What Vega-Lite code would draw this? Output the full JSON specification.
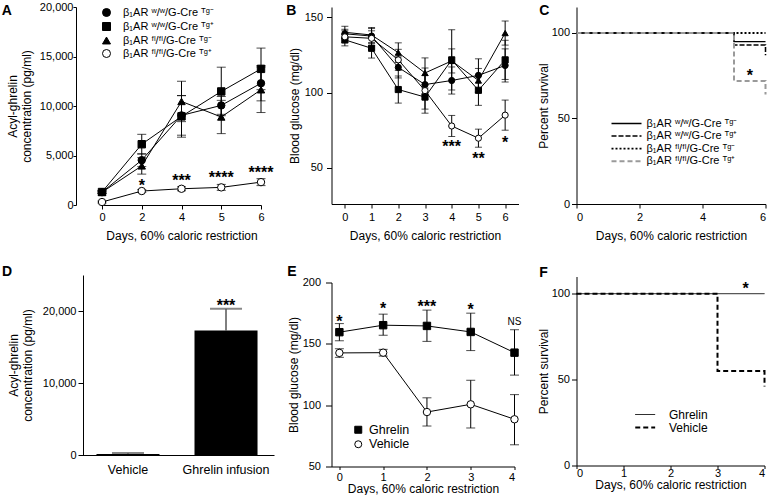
{
  "$schema": "https://vega.github.io/schema/vega-lite/v6.json",
  "padding": {"left": 1, "top": 1, "right": 0, "bottom": 0},
  "background": "white",
  "datasets": {
    "a": [
      {"g": "β₁AR ʷ/ʷ/G-Cre ᵀᵍ⁻", "day": "0", "v": 1300, "lo": 1200, "hi": 1400},
      {"g": "β₁AR ʷ/ʷ/G-Cre ᵀᵍ⁻", "day": "2", "v": 4530, "lo": 3880, "hi": 5180},
      {"g": "β₁AR ʷ/ʷ/G-Cre ᵀᵍ⁻", "day": "4", "v": 9050, "lo": 7050, "hi": 11050},
      {"g": "β₁AR ʷ/ʷ/G-Cre ᵀᵍ⁻", "day": "5", "v": 10060, "lo": 9160, "hi": 10960},
      {"g": "β₁AR ʷ/ʷ/G-Cre ᵀᵍ⁻", "day": "6", "v": 12300, "lo": 10520, "hi": 14080},
      {"g": "β₁AR ʷ/ʷ/G-Cre ᵀᵍ⁺", "day": "0", "v": 1310, "lo": 1160, "hi": 1460},
      {"g": "β₁AR ʷ/ʷ/G-Cre ᵀᵍ⁺", "day": "2", "v": 6140, "lo": 5140, "hi": 7140},
      {"g": "β₁AR ʷ/ʷ/G-Cre ᵀᵍ⁺", "day": "4", "v": 8950, "lo": 6850, "hi": 11050},
      {"g": "β₁AR ʷ/ʷ/G-Cre ᵀᵍ⁺", "day": "5", "v": 11470, "lo": 9020, "hi": 13920},
      {"g": "β₁AR ʷ/ʷ/G-Cre ᵀᵍ⁺", "day": "6", "v": 13750, "lo": 11650, "hi": 15850},
      {"g": "β₁AR ᶠˡ/ᶠˡ/G-Cre ᵀᵍ⁻", "day": "0", "v": 1290, "lo": 1190, "hi": 1390},
      {"g": "β₁AR ᶠˡ/ᶠˡ/G-Cre ᵀᵍ⁻", "day": "2", "v": 3950, "lo": 3120, "hi": 4780},
      {"g": "β₁AR ᶠˡ/ᶠˡ/G-Cre ᵀᵍ⁻", "day": "4", "v": 10460, "lo": 8420, "hi": 12500},
      {"g": "β₁AR ᶠˡ/ᶠˡ/G-Cre ᵀᵍ⁻", "day": "5", "v": 8890, "lo": 7210, "hi": 10570},
      {"g": "β₁AR ᶠˡ/ᶠˡ/G-Cre ᵀᵍ⁻", "day": "6", "v": 11640, "lo": 9340, "hi": 13940},
      {"g": "β₁AR ᶠˡ/ᶠˡ/G-Cre ᵀᵍ⁺", "day": "0", "v": 300, "lo": 200, "hi": 400},
      {"g": "β₁AR ᶠˡ/ᶠˡ/G-Cre ᵀᵍ⁺", "day": "2", "v": 1410, "lo": 1260, "hi": 1560},
      {"g": "β₁AR ᶠˡ/ᶠˡ/G-Cre ᵀᵍ⁺", "day": "4", "v": 1640, "lo": 1440, "hi": 1840},
      {"g": "β₁AR ᶠˡ/ᶠˡ/G-Cre ᵀᵍ⁺", "day": "5", "v": 1780, "lo": 1480, "hi": 2080},
      {"g": "β₁AR ᶠˡ/ᶠˡ/G-Cre ᵀᵍ⁺", "day": "6", "v": 2310, "lo": 1960, "hi": 2660}
    ],
    "a_sig": [
      {"day": "2", "y": 2350, "t": "*"},
      {"day": "4", "y": 2850, "t": "***"},
      {"day": "5", "y": 3120, "t": "****"},
      {"day": "6", "y": 3590, "t": "****"}
    ],
    "b": [
      {"g": "β₁AR ʷ/ʷ/G-Cre ᵀᵍ⁻", "day": 0, "v": 139, "lo": 136, "hi": 142},
      {"g": "β₁AR ʷ/ʷ/G-Cre ᵀᵍ⁻", "day": 1, "v": 137.5, "lo": 132.5, "hi": 142.5},
      {"g": "β₁AR ʷ/ʷ/G-Cre ᵀᵍ⁻", "day": 2, "v": 116.7, "lo": 109.7, "hi": 123.7},
      {"g": "β₁AR ʷ/ʷ/G-Cre ᵀᵍ⁻", "day": 3, "v": 105.3, "lo": 99.3, "hi": 111.3},
      {"g": "β₁AR ʷ/ʷ/G-Cre ᵀᵍ⁻", "day": 4, "v": 108, "lo": 99, "hi": 117},
      {"g": "β₁AR ʷ/ʷ/G-Cre ᵀᵍ⁻", "day": 5, "v": 111.4, "lo": 100.4, "hi": 122.4},
      {"g": "β₁AR ʷ/ʷ/G-Cre ᵀᵍ⁻", "day": 6, "v": 118, "lo": 107, "hi": 129},
      {"g": "β₁AR ʷ/ʷ/G-Cre ᵀᵍ⁺", "day": 0, "v": 135, "lo": 131, "hi": 139},
      {"g": "β₁AR ʷ/ʷ/G-Cre ᵀᵍ⁺", "day": 1, "v": 129.4, "lo": 122.9, "hi": 135.9},
      {"g": "β₁AR ʷ/ʷ/G-Cre ᵀᵍ⁺", "day": 2, "v": 102, "lo": 93, "hi": 111},
      {"g": "β₁AR ʷ/ʷ/G-Cre ᵀᵍ⁺", "day": 3, "v": 97, "lo": 89, "hi": 105},
      {"g": "β₁AR ʷ/ʷ/G-Cre ᵀᵍ⁺", "day": 4, "v": 121.7, "lo": 101.7, "hi": 141.7},
      {"g": "β₁AR ʷ/ʷ/G-Cre ᵀᵍ⁺", "day": 5, "v": 101.5, "lo": 91.5, "hi": 111.5},
      {"g": "β₁AR ʷ/ʷ/G-Cre ᵀᵍ⁺", "day": 6, "v": 121.7, "lo": 108.7, "hi": 134.7},
      {"g": "β₁AR ᶠˡ/ᶠˡ/G-Cre ᵀᵍ⁻", "day": 0, "v": 140, "lo": 136, "hi": 144},
      {"g": "β₁AR ᶠˡ/ᶠˡ/G-Cre ᵀᵍ⁻", "day": 1, "v": 138.2, "lo": 133.2, "hi": 143.2},
      {"g": "β₁AR ᶠˡ/ᶠˡ/G-Cre ᵀᵍ⁻", "day": 2, "v": 126.5, "lo": 120, "hi": 133},
      {"g": "β₁AR ᶠˡ/ᶠˡ/G-Cre ᵀᵍ⁻", "day": 3, "v": 113, "lo": 103, "hi": 123},
      {"g": "β₁AR ᶠˡ/ᶠˡ/G-Cre ᵀᵍ⁻", "day": 4, "v": 121, "lo": 113, "hi": 129},
      {"g": "β₁AR ᶠˡ/ᶠˡ/G-Cre ᵀᵍ⁻", "day": 5, "v": 108, "lo": 100, "hi": 116},
      {"g": "β₁AR ᶠˡ/ᶠˡ/G-Cre ᵀᵍ⁻", "day": 6, "v": 139.5, "lo": 131.5, "hi": 147.5},
      {"g": "β₁AR ᶠˡ/ᶠˡ/G-Cre ᵀᵍ⁺", "day": 0, "v": 137, "lo": 133, "hi": 141},
      {"g": "β₁AR ᶠˡ/ᶠˡ/G-Cre ᵀᵍ⁺", "day": 1, "v": 136, "lo": 131, "hi": 141},
      {"g": "β₁AR ᶠˡ/ᶠˡ/G-Cre ᵀᵍ⁺", "day": 2, "v": 121.7, "lo": 114.7, "hi": 128.7},
      {"g": "β₁AR ᶠˡ/ᶠˡ/G-Cre ᵀᵍ⁺", "day": 3, "v": 101.3, "lo": 86.3, "hi": 116.3},
      {"g": "β₁AR ᶠˡ/ᶠˡ/G-Cre ᵀᵍ⁺", "day": 4, "v": 77.8, "lo": 70.8, "hi": 84.8},
      {"g": "β₁AR ᶠˡ/ᶠˡ/G-Cre ᵀᵍ⁺", "day": 5, "v": 69.7, "lo": 63.7, "hi": 75.7},
      {"g": "β₁AR ᶠˡ/ᶠˡ/G-Cre ᵀᵍ⁺", "day": 6, "v": 85, "lo": 75, "hi": 95}
    ],
    "b_sig": [
      {"day": 4, "y": 66.4, "t": "***"},
      {"day": 5, "y": 58.6, "t": "**"},
      {"day": 6, "y": 69, "t": "*"}
    ],
    "c": [
      {"g": "β₁AR ʷ/ʷ/G-Cre ᵀᵍ⁻", "day": 0, "s": 100},
      {"g": "β₁AR ʷ/ʷ/G-Cre ᵀᵍ⁻", "day": 5, "s": 95},
      {"g": "β₁AR ʷ/ʷ/G-Cre ᵀᵍ⁻", "day": 6, "s": 95},
      {"g": "β₁AR ʷ/ʷ/G-Cre ᵀᵍ⁺", "day": 0, "s": 100},
      {"g": "β₁AR ʷ/ʷ/G-Cre ᵀᵍ⁺", "day": 5, "s": 93},
      {"g": "β₁AR ʷ/ʷ/G-Cre ᵀᵍ⁺", "day": 6, "s": 87},
      {"g": "β₁AR ᶠˡ/ᶠˡ/G-Cre ᵀᵍ⁻", "day": 0, "s": 100},
      {"g": "β₁AR ᶠˡ/ᶠˡ/G-Cre ᵀᵍ⁻", "day": 6, "s": 100},
      {"g": "β₁AR ᶠˡ/ᶠˡ/G-Cre ᵀᵍ⁺", "day": 0, "s": 100},
      {"g": "β₁AR ᶠˡ/ᶠˡ/G-Cre ᵀᵍ⁺", "day": 5, "s": 72},
      {"g": "β₁AR ᶠˡ/ᶠˡ/G-Cre ᵀᵍ⁺", "day": 6, "s": 64}
    ],
    "c_sig": [{"day": 5.5, "y": 77, "t": "*"}],
    "d": [
      {"cond": "Vehicle", "v": 150, "hi": 280},
      {"cond": "Ghrelin infusion", "v": 17300, "hi": 20300}
    ],
    "d_sig": [{"cond": "Ghrelin infusion", "y": 21300, "t": "***"}],
    "e": [
      {"g": "Ghrelin", "day": 0, "v": 159.5, "lo": 152.5, "hi": 166.5},
      {"g": "Ghrelin", "day": 1, "v": 165.2, "lo": 157, "hi": 174.2},
      {"g": "Ghrelin", "day": 2, "v": 164.6, "lo": 152, "hi": 177.5},
      {"g": "Ghrelin", "day": 3, "v": 159.7, "lo": 144.5, "hi": 175},
      {"g": "Ghrelin", "day": 4, "v": 142.8, "lo": 124.5, "hi": 161.5},
      {"g": "Vehicle", "day": 0, "v": 142.6, "lo": 139, "hi": 146},
      {"g": "Vehicle", "day": 1, "v": 142.8, "lo": 140, "hi": 145.5},
      {"g": "Vehicle", "day": 2, "v": 94.4, "lo": 83, "hi": 106},
      {"g": "Vehicle", "day": 3, "v": 100.7, "lo": 81.4, "hi": 120.3},
      {"g": "Vehicle", "day": 4, "v": 88.5, "lo": 67.7, "hi": 108.6}
    ],
    "e_sig": [
      {"day": 0, "y": 171.2, "t": "*"},
      {"day": 1, "y": 181.5, "t": "*"},
      {"day": 2, "y": 182.9, "t": "***"},
      {"day": 3, "y": 180.7, "t": "*"}
    ],
    "e_ns": [{"day": 4, "y": 168, "t": "NS"}],
    "f": [
      {"g": "Ghrelin", "day": 0, "s": 100},
      {"g": "Ghrelin", "day": 4, "s": 100},
      {"g": "Vehicle", "day": 0, "s": 100},
      {"g": "Vehicle", "day": 3, "s": 55},
      {"g": "Vehicle", "day": 4, "s": 46}
    ],
    "f_sig": [{"day": 3.6, "y": 105, "t": "*"}]
  },
  "spacing": 14.5,
  "resolve": {"scale": {"shape": "independent", "fill": "independent", "stroke": "independent", "color": "independent", "strokeDash": "independent", "strokeWidth": "independent"}, "legend": {"shape": "independent", "fill": "independent", "stroke": "independent", "color": "independent", "strokeDash": "independent", "strokeWidth": "independent"}},
  "hconcat": [
    {
      "spacing": 10.5,
      "resolve": {"scale": {"shape": "independent", "fill": "independent", "stroke": "independent", "color": "independent", "strokeDash": "independent", "strokeWidth": "independent"}, "legend": {"shape": "independent", "fill": "independent", "stroke": "independent", "color": "independent", "strokeDash": "independent", "strokeWidth": "independent"}},
      "hconcat": [
        {
          "spacing": 23,
          "resolve": {"scale": {"shape": "independent", "fill": "independent", "stroke": "independent", "color": "independent", "strokeDash": "independent", "strokeWidth": "independent"}, "legend": {"shape": "independent", "fill": "independent", "stroke": "independent", "color": "independent", "strokeDash": "independent", "strokeWidth": "independent"}},
          "vconcat": [
            {
              "width": 195, "height": 198,
              "title": {"text": "A", "offset": -16.5, "dx": -5},
              "encoding": {"x": {"field": "day", "type": "ordinal", "scale": {"type": "point", "range": [22, 181], "padding": 0}, "axis": {"labelAngle": 0, "title": "Days, 60% caloric restriction", "tickSize": 4, "labelPadding": 2, "titlePadding": 8}}},
              "layer": [
                {"data": {"name": "a"}, "mark": {"type": "rule", "color": "black", "strokeWidth": 1},
                 "encoding": {"y": {"field": "lo", "type": "quantitative", "title": ["Acyl-ghrelin", "concentration (pg/ml)"], "scale": {"domain": [0, 20000], "nice": false}, "axis": {"values": [0, 5000, 10000, 15000, 20000], "format": ",d", "offset": 4, "tickSize": 3, "labelPadding": 0, "titlePadding": 5.5}}, "y2": {"field": "hi"}}},
                {"data": {"name": "a"}, "mark": {"type": "tick", "orient": "horizontal", "size": 9, "thickness": 1, "color": "black"},
                 "encoding": {"y": {"field": "lo", "type": "quantitative", "title": ["Acyl-ghrelin", "concentration (pg/ml)"]}}},
                {"data": {"name": "a"}, "mark": {"type": "tick", "orient": "horizontal", "size": 9, "thickness": 1, "color": "black"},
                 "encoding": {"y": {"field": "hi", "type": "quantitative", "title": ["Acyl-ghrelin", "concentration (pg/ml)"]}}},
                {"data": {"name": "a"}, "mark": {"type": "line", "color": "black", "strokeWidth": 1},
                 "encoding": {"y": {"field": "v", "type": "quantitative", "title": ["Acyl-ghrelin", "concentration (pg/ml)"]}, "detail": {"field": "g"}}},
                {"data": {"name": "a"}, "mark": {"type": "point", "strokeWidth": 1, "opacity": 1, "size": 55},
                 "encoding": {
                   "y": {"field": "v", "type": "quantitative", "title": ["Acyl-ghrelin", "concentration (pg/ml)"]},
                   "shape": {"field": "g", "type": "nominal", "scale": {"domain": ["β₁AR ʷ/ʷ/G-Cre ᵀᵍ⁻", "β₁AR ʷ/ʷ/G-Cre ᵀᵍ⁺", "β₁AR ᶠˡ/ᶠˡ/G-Cre ᵀᵍ⁻", "β₁AR ᶠˡ/ᶠˡ/G-Cre ᵀᵍ⁺"], "range": ["circle", "square", "triangle-up", "circle"]}, "legend": {"title": null, "orient": "none", "legendX": 21, "legendY": 0, "padding": 0, "symbolSize": 64, "rowPadding": 1, "labelFontSize": 11, "labelOffset": 11, "symbolStrokeWidth": 1}},
                   "fill": {"field": "g", "type": "nominal", "scale": {"domain": ["β₁AR ʷ/ʷ/G-Cre ᵀᵍ⁻", "β₁AR ʷ/ʷ/G-Cre ᵀᵍ⁺", "β₁AR ᶠˡ/ᶠˡ/G-Cre ᵀᵍ⁻", "β₁AR ᶠˡ/ᶠˡ/G-Cre ᵀᵍ⁺"], "range": ["black", "black", "black", "white"]}, "legend": {"title": null, "orient": "none", "legendX": 21, "legendY": 0, "padding": 0, "symbolSize": 64, "rowPadding": 1, "labelFontSize": 11, "labelOffset": 11, "symbolStrokeWidth": 1}},
                   "stroke": {"field": "g", "type": "nominal", "scale": {"domain": ["β₁AR ʷ/ʷ/G-Cre ᵀᵍ⁻", "β₁AR ʷ/ʷ/G-Cre ᵀᵍ⁺", "β₁AR ᶠˡ/ᶠˡ/G-Cre ᵀᵍ⁻", "β₁AR ᶠˡ/ᶠˡ/G-Cre ᵀᵍ⁺"], "range": ["black", "black", "black", "black"]}, "legend": {"title": null, "orient": "none", "legendX": 21, "legendY": 0, "padding": 0, "symbolSize": 64, "rowPadding": 1, "labelFontSize": 11, "labelOffset": 11, "symbolStrokeWidth": 1}}
                 }},
                {"data": {"name": "a_sig"}, "mark": {"type": "text", "fontSize": 16, "fontWeight": "bold", "baseline": "alphabetic", "dy": 9, "color": "black"},
                 "encoding": {"y": {"field": "y", "type": "quantitative", "title": ["Acyl-ghrelin", "concentration (pg/ml)"]}, "text": {"field": "t"}}}
              ]
            },
            {
              "width": 194, "height": 180,
              "title": {"text": "D", "offset": -3.8, "dx": -5},
              "encoding": {"x": {"field": "cond", "type": "nominal", "sort": ["Vehicle", "Ghrelin infusion"], "scale": {"paddingInner": 0.357, "paddingOuter": 0.168}, "axis": {"title": null, "labelAngle": 0, "ticks": false, "tickSize": 0, "labelFontSize": 12.5, "labelPadding": 8}}},
              "layer": [
                {"data": {"name": "d"}, "mark": {"type": "rule", "color": "black", "strokeWidth": 1},
                 "encoding": {"y": {"field": "v", "type": "quantitative", "title": ["Acyl-ghrelin", "concentration (pg/ml)"], "scale": {"domain": [0, 25000], "nice": false}, "axis": {"values": [0, 5000, 10000, 15000, 20000, 25000], "format": ",d", "offset": -3, "tickSize": 5, "labelPadding": 2, "titlePadding": 8.3}}, "y2": {"field": "hi"}}},
                {"data": {"name": "d"}, "mark": {"type": "tick", "orient": "horizontal", "size": 32, "thickness": 2, "color": "#555555"},
                 "encoding": {"y": {"field": "hi", "type": "quantitative", "title": ["Acyl-ghrelin", "concentration (pg/ml)"]}}},
                {"data": {"name": "d"}, "mark": {"type": "bar", "color": "black"},
                 "encoding": {"y": {"field": "v", "type": "quantitative", "title": ["Acyl-ghrelin", "concentration (pg/ml)"]}}},
                {"data": {"name": "d_sig"}, "mark": {"type": "text", "fontSize": 16, "fontWeight": "bold", "baseline": "alphabetic", "dy": 9, "color": "black"},
                 "encoding": {"y": {"field": "y", "type": "quantitative", "title": ["Acyl-ghrelin", "concentration (pg/ml)"]}, "text": {"field": "t"}}}
              ]
            }
          ]
        },
        {
          "spacing": 23.5,
          "resolve": {"scale": {"shape": "independent", "fill": "independent", "stroke": "independent", "color": "independent", "strokeDash": "independent", "strokeWidth": "independent"}, "legend": {"shape": "independent", "fill": "independent", "stroke": "independent", "color": "independent", "strokeDash": "independent", "strokeWidth": "independent"}},
          "vconcat": [
            {
              "width": 187, "height": 197,
              "title": {"text": "B", "offset": -11, "dx": -2},
              "encoding": {"x": {"field": "day", "type": "quantitative", "scale": {"domain": [-0.5, 6.5], "nice": false}, "axis": {"values": [0, 1, 2, 3, 4, 5, 6], "title": "Days, 60% caloric restriction", "tickSize": 4, "labelPadding": 3, "titlePadding": 8}}},
              "layer": [
                {"data": {"name": "b"}, "mark": {"type": "rule", "color": "black", "strokeWidth": 1},
                 "encoding": {"y": {"field": "lo", "type": "quantitative", "title": "Blood glucose (mg/dl)", "scale": {"domain": [26, 156.8], "nice": false}, "axis": {"values": [50, 100, 150], "tickSize": 5, "labelPadding": 4, "titlePadding": 3}}, "y2": {"field": "hi"}}},
                {"data": {"name": "b"}, "mark": {"type": "tick", "orient": "horizontal", "size": 7, "thickness": 1, "color": "black"},
                 "encoding": {"y": {"field": "lo", "type": "quantitative", "title": "Blood glucose (mg/dl)"}}},
                {"data": {"name": "b"}, "mark": {"type": "tick", "orient": "horizontal", "size": 7, "thickness": 1, "color": "black"},
                 "encoding": {"y": {"field": "hi", "type": "quantitative", "title": "Blood glucose (mg/dl)"}}},
                {"data": {"name": "b"}, "mark": {"type": "line", "color": "black", "strokeWidth": 1},
                 "encoding": {"y": {"field": "v", "type": "quantitative", "title": "Blood glucose (mg/dl)"}, "detail": {"field": "g"}}},
                {"data": {"name": "b"}, "mark": {"type": "point", "stroke": "black", "strokeWidth": 1, "opacity": 1, "size": 38},
                 "encoding": {
                   "y": {"field": "v", "type": "quantitative", "title": "Blood glucose (mg/dl)"},
                   "shape": {"field": "g", "type": "nominal", "scale": {"domain": ["β₁AR ʷ/ʷ/G-Cre ᵀᵍ⁻", "β₁AR ʷ/ʷ/G-Cre ᵀᵍ⁺", "β₁AR ᶠˡ/ᶠˡ/G-Cre ᵀᵍ⁻", "β₁AR ᶠˡ/ᶠˡ/G-Cre ᵀᵍ⁺"], "range": ["circle", "square", "triangle-up", "circle"]}, "legend": null},
                   "fill": {"field": "g", "type": "nominal", "scale": {"domain": ["β₁AR ʷ/ʷ/G-Cre ᵀᵍ⁻", "β₁AR ʷ/ʷ/G-Cre ᵀᵍ⁺", "β₁AR ᶠˡ/ᶠˡ/G-Cre ᵀᵍ⁻", "β₁AR ᶠˡ/ᶠˡ/G-Cre ᵀᵍ⁺"], "range": ["black", "black", "black", "white"]}, "legend": null}
                 }},
                {"data": {"name": "b_sig"}, "mark": {"type": "text", "fontSize": 16, "fontWeight": "bold", "baseline": "alphabetic", "dy": 9, "color": "black"},
                 "encoding": {"y": {"field": "y", "type": "quantitative", "title": "Blood glucose (mg/dl)"}, "text": {"field": "t"}}}
              ]
            },
            {
              "width": 183, "height": 184,
              "title": {"text": "E", "offset": -2.8, "dx": 0},
              "encoding": {"x": {"field": "day", "type": "quantitative", "scale": {"domain": [-0.18, 4], "nice": false}, "axis": {"values": [0, 1, 2, 3, 4], "title": "Days, 60% caloric restriction", "tickSize": 3, "labelPadding": 2, "titlePadding": 1}}},
              "layer": [
                {"data": {"name": "e"}, "mark": {"type": "rule", "color": "black", "strokeWidth": 1},
                 "encoding": {"y": {"field": "lo", "type": "quantitative", "title": "Blood glucose (mg/dl)", "scale": {"domain": [50, 200], "nice": false}, "axis": {"values": [50, 100, 150, 200], "tickSize": 6, "labelPadding": 5, "titlePadding": 2}}, "y2": {"field": "hi"}}},
                {"data": {"name": "e"}, "mark": {"type": "tick", "orient": "horizontal", "size": 9, "thickness": 1, "color": "black"},
                 "encoding": {"y": {"field": "lo", "type": "quantitative", "title": "Blood glucose (mg/dl)"}}},
                {"data": {"name": "e"}, "mark": {"type": "tick", "orient": "horizontal", "size": 9, "thickness": 1, "color": "black"},
                 "encoding": {"y": {"field": "hi", "type": "quantitative", "title": "Blood glucose (mg/dl)"}}},
                {"data": {"name": "e"}, "mark": {"type": "line", "color": "black", "strokeWidth": 1},
                 "encoding": {"y": {"field": "v", "type": "quantitative", "title": "Blood glucose (mg/dl)"}, "detail": {"field": "g"}}},
                {"data": {"name": "e"}, "mark": {"type": "point", "strokeWidth": 1, "opacity": 1, "size": 55},
                 "encoding": {
                   "y": {"field": "v", "type": "quantitative", "title": "Blood glucose (mg/dl)"},
                   "shape": {"field": "g", "type": "nominal", "scale": {"domain": ["Ghrelin", "Vehicle"], "range": ["square", "circle"]}, "legend": {"title": null, "orient": "none", "legendX": 20.5, "legendY": 141, "padding": 0, "symbolSize": 49, "rowPadding": 1.5, "labelFontSize": 12.5, "labelOffset": 4.5, "symbolStrokeWidth": 1}},
                   "fill": {"field": "g", "type": "nominal", "scale": {"domain": ["Ghrelin", "Vehicle"], "range": ["black", "white"]}, "legend": {"title": null, "orient": "none", "legendX": 20.5, "legendY": 141, "padding": 0, "symbolSize": 49, "rowPadding": 1.5, "labelFontSize": 12.5, "labelOffset": 4.5, "symbolStrokeWidth": 1}},
                   "stroke": {"field": "g", "type": "nominal", "scale": {"domain": ["Ghrelin", "Vehicle"], "range": ["black", "black"]}, "legend": {"title": null, "orient": "none", "legendX": 20.5, "legendY": 141, "padding": 0, "symbolSize": 49, "rowPadding": 1.5, "labelFontSize": 12.5, "labelOffset": 4.5, "symbolStrokeWidth": 1}}
                 }},
                {"data": {"name": "e_sig"}, "mark": {"type": "text", "fontSize": 16, "fontWeight": "bold", "baseline": "alphabetic", "dy": 9, "color": "black"},
                 "encoding": {"y": {"field": "y", "type": "quantitative", "title": "Blood glucose (mg/dl)"}, "text": {"field": "t"}}},
                {"data": {"name": "e_ns"}, "mark": {"type": "text", "fontSize": 10, "baseline": "middle", "color": "black"},
                 "encoding": {"y": {"field": "y", "type": "quantitative", "title": "Blood glucose (mg/dl)"}, "text": {"field": "t"}}}
              ]
            }
          ]
        }
      ]
    },
    {
      "spacing": 24.5,
      "resolve": {"scale": {"shape": "independent", "fill": "independent", "stroke": "independent", "color": "independent", "strokeDash": "independent", "strokeWidth": "independent"}, "legend": {"shape": "independent", "fill": "independent", "stroke": "independent", "color": "independent", "strokeDash": "independent", "strokeWidth": "independent"}},
      "vconcat": [
        {
          "width": 189, "height": 197,
          "title": {"text": "C", "offset": -11, "dx": 2},
          "encoding": {"x": {"field": "day", "type": "quantitative", "scale": {"domain": [0, 6], "nice": false}, "axis": {"values": [0, 2, 4, 6], "title": "Days, 60% caloric restriction", "tickSize": 4, "labelPadding": 3, "titlePadding": 8}}},
          "layer": [
            {"data": {"name": "c"}, "mark": {"type": "line", "interpolate": "step-after"},
             "encoding": {
               "y": {"field": "s", "type": "quantitative", "title": "Percent survival", "scale": {"domain": [0, 115.2], "nice": false}, "axis": {"values": [0, 50, 100], "tickSize": 5, "labelPadding": 2, "titlePadding": 1}},
               "color": {"field": "g", "type": "nominal", "scale": {"domain": ["β₁AR ʷ/ʷ/G-Cre ᵀᵍ⁻", "β₁AR ʷ/ʷ/G-Cre ᵀᵍ⁺", "β₁AR ᶠˡ/ᶠˡ/G-Cre ᵀᵍ⁻", "β₁AR ᶠˡ/ᶠˡ/G-Cre ᵀᵍ⁺"], "range": ["black", "black", "black", "#9a9a9a"]}, "legend": {"title": null, "orient": "none", "legendX": 44, "legendY": 110.5, "padding": 0, "symbolType": "M-3,0H3", "symbolSize": 100, "rowPadding": 1.6, "labelFontSize": 11, "labelOffset": 14}},
               "strokeDash": {"field": "g", "type": "nominal", "scale": {"domain": ["β₁AR ʷ/ʷ/G-Cre ᵀᵍ⁻", "β₁AR ʷ/ʷ/G-Cre ᵀᵍ⁺", "β₁AR ᶠˡ/ᶠˡ/G-Cre ᵀᵍ⁻", "β₁AR ᶠˡ/ᶠˡ/G-Cre ᵀᵍ⁺"], "range": [[1, 0], [5, 2], [2, 2], [5, 3]]}, "legend": {"title": null, "orient": "none", "legendX": 44, "legendY": 110.5, "padding": 0, "symbolType": "M-3,0H3", "symbolSize": 100, "rowPadding": 1.6, "labelFontSize": 11, "labelOffset": 14}},
               "strokeWidth": {"field": "g", "type": "nominal", "scale": {"domain": ["β₁AR ʷ/ʷ/G-Cre ᵀᵍ⁻", "β₁AR ʷ/ʷ/G-Cre ᵀᵍ⁺", "β₁AR ᶠˡ/ᶠˡ/G-Cre ᵀᵍ⁻", "β₁AR ᶠˡ/ᶠˡ/G-Cre ᵀᵍ⁺"], "range": [1.3, 2, 2, 2]}, "legend": {"title": null, "orient": "none", "legendX": 44, "legendY": 110.5, "padding": 0, "symbolType": "M-3,0H3", "symbolSize": 100, "rowPadding": 1.6, "labelFontSize": 11, "labelOffset": 14}}
             }},
            {"data": {"name": "c_sig"}, "mark": {"type": "text", "fontSize": 16, "fontWeight": "bold", "baseline": "alphabetic", "dy": 9, "color": "black"},
             "encoding": {"y": {"field": "y", "type": "quantitative", "title": "Percent survival"}, "text": {"field": "t"}}}
          ]
        },
        {
          "width": 188, "height": 189,
          "title": {"text": "F", "offset": -3.3, "dx": 2},
          "encoding": {"x": {"field": "day", "type": "quantitative", "scale": {"domain": [0, 4], "nice": false}, "axis": {"values": [0, 1, 2, 3, 4], "title": "Days, 60% caloric restriction", "tickSize": 3, "labelPadding": -1, "titlePadding": 1}}},
          "layer": [
            {"data": {"name": "f"}, "mark": {"type": "line", "interpolate": "step-after", "color": "black"},
             "encoding": {
               "y": {"field": "s", "type": "quantitative", "title": "Percent survival", "scale": {"domain": [0, 110], "nice": false}, "axis": {"values": [0, 50, 100], "tickSize": 5, "labelPadding": 2, "titlePadding": 1}},
               "strokeDash": {"field": "g", "type": "nominal", "scale": {"domain": ["Ghrelin", "Vehicle"], "range": [[1, 0], [5, 3]]}, "legend": {"title": null, "orient": "none", "legendX": 62.7, "legendY": 132, "padding": 0, "symbolType": "M-3,0H3", "symbolSize": 44, "rowPadding": 1, "labelFontSize": 12, "labelOffset": 17.7}},
               "strokeWidth": {"field": "g", "type": "nominal", "scale": {"domain": ["Ghrelin", "Vehicle"], "range": [1, 2]}, "legend": {"title": null, "orient": "none", "legendX": 62.7, "legendY": 132, "padding": 0, "symbolType": "M-3,0H3", "symbolSize": 44, "rowPadding": 1, "labelFontSize": 12, "labelOffset": 17.7}}
             }},
            {"data": {"name": "f_sig"}, "mark": {"type": "text", "fontSize": 16, "fontWeight": "bold", "baseline": "alphabetic", "dy": 9, "color": "black"},
             "encoding": {"y": {"field": "y", "type": "quantitative", "title": "Percent survival"}, "text": {"field": "t"}}}
          ]
        }
      ]
    }
  ],
  "config": {
    "font": "Liberation Sans",
    "view": {"stroke": null},
    "axis": {"grid": false, "domainColor": "black", "tickColor": "black", "labelColor": "black", "titleColor": "black", "labelFont": "Liberation Sans", "titleFont": "Liberation Sans", "labelFontSize": 11, "titleFontSize": 12, "titleFontWeight": "normal"},
    "legend": {"labelFont": "Liberation Sans", "labelColor": "black"},
    "title": {"font": "Liberation Sans", "fontSize": 14, "fontWeight": "bold", "anchor": "start", "frame": "bounds", "color": "black"}
  }
}
